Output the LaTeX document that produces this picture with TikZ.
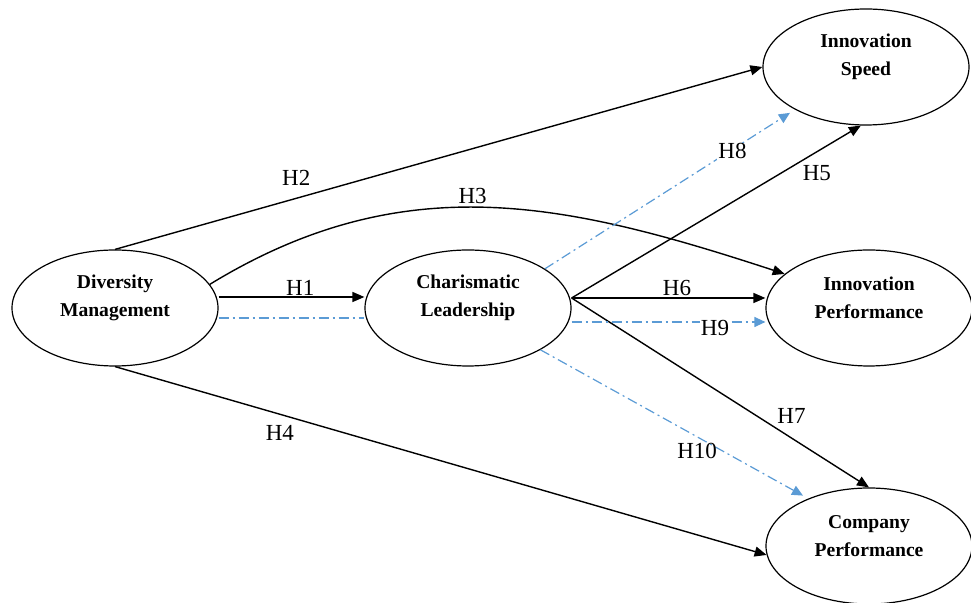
\documentclass[tikz,border=0pt]{standalone}
\usepackage{fontspec}
\setmainfont{Liberation Serif}
\usepackage{xcolor}
\usetikzlibrary{shapes,arrows.meta,positioning,calc}
\definecolor{linkblue}{RGB}{91,155,213}

\begin{document}
\begin{tikzpicture}[
        x=0.5pt, y=-0.5pt,
        % Styles
        construct/.style={
            ellipse,
            draw=black,
            line width=0.6pt,
            minimum width=103pt,
            minimum height=58pt,
            inner sep=0pt
        },
        ctext/.style={
            font=\fontsize{9.8}{14}\selectfont\bfseries,
            align=center
        },
        hyp/.style={
            font=\fontsize{11.5}{13}\selectfont,
            text=black,
            inner sep=0.5pt
        },
        hypcut/.style={
            hyp,
            fill=white
        },
        effect/.style={
            -{Triangle[length=6pt,width=5pt]},
            line width=0.7pt
        },
        mediated/.style={
            draw=linkblue,
            line width=0.6pt,
            dash pattern=on 5pt off 2pt on 1pt off 2pt
        },
        medarrow/.style={
            mediated,
            -{Triangle[length=5.5pt,width=5pt]},
            linkblue
        }
    ]
    \useasboundingbox (0,0) rectangle (971,603);

    % Constructs
    \node[construct] (dm) at (115,308) {};
    \node[ctext] (dm-txt) at ([yshift=5pt]dm.center) {Diversity\\Management};

    \node[construct] (cl) at (468,308) {};
    \node[ctext] (cl-txt) at ([yshift=5pt]cl.center) {Charismatic\\Leadership};

    \node[construct] (is) at (866,67) {};
    \node[ctext] (is-txt) at ([yshift=5pt]is.center) {Innovation\\Speed};

    \node[construct] (ip) at (869,308) {};
    \node[ctext] (ip-txt) at ([yshift=5pt]ip.center) {Innovation\\Performance};

    \node[construct] (cp) at (869,546) {};
    \node[ctext] (cp-txt) at ([yshift=5pt]cp.center) {Company\\Performance};

    % Direct effects
    \draw[effect] ([yshift=5.5pt]dm.east) -- ([yshift=5.5pt]cl.west)
        node[hyp, pos=0.56, yshift=4.5pt] (h1) {H1};
    \draw[effect] (dm.north) -- (is.west)
        node[hyp, pos=0.28, yshift=10pt] (h2) {H2};
    \draw[effect] (dm.14) .. controls (405,165) and (568,203) .. (ip.158)
        node[hyp, pos=0.47, yshift=5.5pt] (h3) {H3};
    \draw[effect] (dm.south) -- (cp.185)
        node[hyp, pos=0.253, yshift=-9.5pt] (h4) {H4};
    \draw[effect] ([yshift=5pt]cl.east) -- (is.265)
        node[hyp, pos=0.848, yshift=-10.5pt] (h5) {H5};
    \draw[effect] ([yshift=5pt]cl.east) -- ([yshift=5pt]ip.west)
        node[hyp, pos=0.544, yshift=5pt] (h6) {H6};
    \draw[effect] ([yshift=5pt]cl.east) -- (cp.north)
        node[hyp, pos=0.625, xshift=17pt] (h7) {H7};

    % Mediated effects
    \draw[mediated] ([yshift=-5pt]dm.east) -- ([yshift=-5pt]cl.west);
    \draw[medarrow, shorten >=3pt] (cl.27.5) -- (is.211)
        node[hypcut, pos=0.75, yshift=-1pt] (h8) {H8};
    \draw[medarrow] ([yshift=-7pt]cl.east) -- ([yshift=-7pt]ip.west)
        node[hypcut, pos=0.74, yshift=-3pt] (h9) {H9};
    \draw[medarrow, shorten >=3pt] (cl.-30) -- (cp.142)
        node[hyp, pos=0.585, yshift=-7pt] (h10) {H10};

\end{tikzpicture}
\end{document}
